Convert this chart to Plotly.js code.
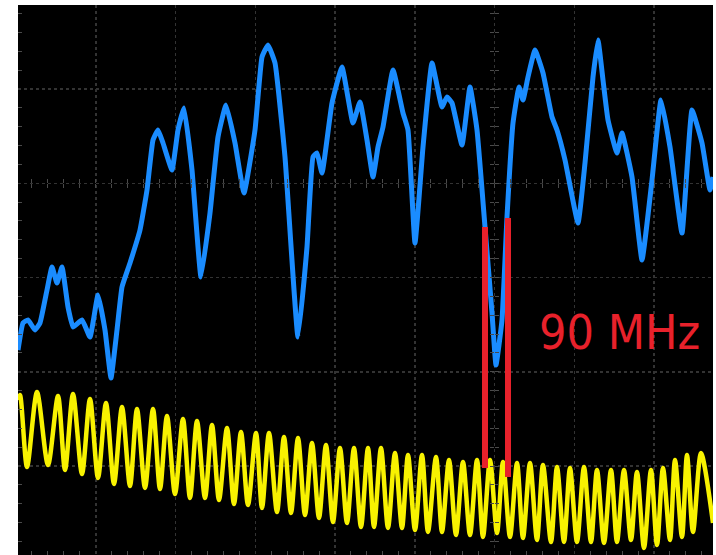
<!DOCTYPE html>
<html>
<head>
<meta charset="utf-8">
<script src="https://cdn.plot.ly/plotly-3.0.1.min.js"></script>
<style>html,body{margin:0;padding:0;background:#fff;}#chart{width:716px;height:555px;}</style>
</head>
<body>
<div id="chart"></div>
<script>
// Blue channel (sample index, ADC code)
const blueT = [0,5,10,17,22,29,34,39,44,50,55,64,72,80,87,93,99,104,112,122,129,135,140,145,154,160,166,174,183,192,200,208,217,226,237,244,250,257,267,280,289,295,299,304,314,324,335,342,349,355,360,365,375,385,390,397,405,414,424,429,434,444,452,459,467,474,478,484,489,495,501,505,510,517,525,534,539,547,560,567,575,580,585,590,599,604,614,624,634,643,652,664,674,684,692,695];
const blueV = [205,232,235,225,232,265,288,272,288,248,228,235,218,260,225,177,225,268,292,325,365,415,425,412,385,425,447,385,278,342,418,450,412,362,425,498,510,492,398,218,308,398,402,382,452,488,432,453,415,378,408,428,485,442,425,312,408,492,448,458,452,410,468,425,328,242,190,235,338,432,468,455,478,505,482,438,425,395,332,392,478,515,475,435,402,422,378,295,375,455,408,322,445,412,365,378];

// Yellow channel (sample index, ADC code) – peaks and troughs
const yellowT = [0,2,9,19,30,40,47,55,64,72,80,88,96,104,112,119,127,135,142,149,157,165,172,179,187,194,201,209,216,223,230,238,244,251,259,266,273,280,287,294,301,308,315,322,329,336,343,350,356,363,370,377,384,390,397,404,410,418,424,431,438,445,452,459,465,472,479,485,492,499,505,512,519,525,533,539,546,552,559,566,573,579,586,593,599,606,613,619,626,633,639,645,652,657,664,669,675,683,695];
const yellowV = [155,160,88,163,90,159,85,161,81,156,77,152,71,148,69,146,67,146,66,139,61,136,57,134,57,130,55,127,51,123,50,122,47,122,43,118,42,117,40,112,37,110,33,107,32,107,28,107,28,107,27,102,27,100,25,100,23,98,23,95,20,93,20,95,18,95,22,93,18,92,17,92,15,90,13,88,13,87,13,88,13,85,12,85,13,85,15,83,7,85,10,87,15,95,18,100,23,102,32];

// Red cursor markers
const markerT = [467, 490];
const markerTop = [328, 337];
const markerBottom = [87, 78];
const markerLabel = "90 MHz";
const labelT = 601, labelV = 223;

// Scope graticule
const xDiv = 79.75, xDiv0 = -2;
const yDiv = 94.25, yDiv0 = 89;
const centerV = 372, centerT = 476;
const xRange = [0, 695], yRange = [0, 550];

const red = '#e8212b';
const traces = [
  {x: yellowT, y: yellowV, mode: 'lines', line: {color: '#f8f200', width: 4.5, shape: 'spline', smoothing: 0.8}, hoverinfo: 'skip'},
  {x: blueT, y: blueV, mode: 'lines', line: {color: '#1a8cff', width: 5, shape: 'spline', smoothing: 0.35}, hoverinfo: 'skip'}
];
markerT.forEach((t, i) => {
  traces.push({x: [t, t], y: [markerBottom[i], markerTop[i]], mode: 'lines', line: {color: red, width: 6}, hoverinfo: 'skip'});
});
// empty traces to create the centre-line tick axes
traces.push({x: [], y: [], xaxis: 'x2', yaxis: 'y', hoverinfo: 'skip'});
traces.push({x: [], y: [], xaxis: 'x3', yaxis: 'y', hoverinfo: 'skip'});
traces.push({x: [], y: [], xaxis: 'x', yaxis: 'y2', hoverinfo: 'skip'});
traces.push({x: [], y: [], xaxis: 'x', yaxis: 'y3', hoverinfo: 'skip'});

const tickCol = '#4a4a4a';
const gridCol = '#333333';
function centerAx(extra) {
  return Object.assign({showgrid: false, zeroline: false, showline: false, showticklabels: false, ticklen: 4, tickwidth: 1, tickcolor: tickCol, fixedrange: true}, extra);
}
const layout = {
  width: 716, height: 555,
  margin: {l: 18, r: 3, t: 5, b: 0, pad: 0},
  paper_bgcolor: '#ffffff', plot_bgcolor: '#000000',
  showlegend: false,
  xaxis: {range: xRange, tick0: xDiv0, dtick: xDiv, showgrid: true, gridcolor: gridCol, griddash: 'dot', gridwidth: 1.5,
          zeroline: false, showticklabels: false, ticks: '', showline: false,
          minor: {tick0: xDiv0, dtick: xDiv / 5, ticks: 'inside', ticklen: 4, tickcolor: tickCol, showgrid: false}},
  yaxis: {range: yRange, tick0: yDiv0, dtick: yDiv, showgrid: true, gridcolor: gridCol, griddash: 'dot', gridwidth: 1.5,
          zeroline: false, showticklabels: false, ticks: '', showline: false,
          minor: {tick0: yDiv0, dtick: yDiv / 5, ticks: 'inside', ticklen: 4, tickcolor: tickCol, showgrid: false}},
  xaxis2: centerAx({overlaying: 'x', anchor: 'free', position: centerV / yRange[1], range: xRange, tick0: xDiv0, dtick: xDiv / 5, ticks: 'outside'}),
  xaxis3: centerAx({overlaying: 'x', anchor: 'free', position: centerV / yRange[1], range: xRange, tick0: xDiv0, dtick: xDiv / 5, ticks: 'inside'}),
  yaxis2: centerAx({overlaying: 'y', anchor: 'free', position: centerT / xRange[1], range: yRange, tick0: yDiv0, dtick: yDiv / 5, ticks: 'outside'}),
  yaxis3: centerAx({overlaying: 'y', anchor: 'free', position: centerT / xRange[1], range: yRange, tick0: yDiv0, dtick: yDiv / 5, ticks: 'inside'}),
  annotations: [{x: labelT, y: labelV, xref: 'x', yref: 'y', text: markerLabel, showarrow: false,
                 font: {family: 'DejaVu Sans Condensed, Liberation Sans Narrow, sans-serif', size: 48, color: red},
                 xanchor: 'center', yanchor: 'middle'}]
};
Plotly.newPlot('chart', traces, layout, {displayModeBar: false, staticPlot: true});
</script>
</body>
</html>
